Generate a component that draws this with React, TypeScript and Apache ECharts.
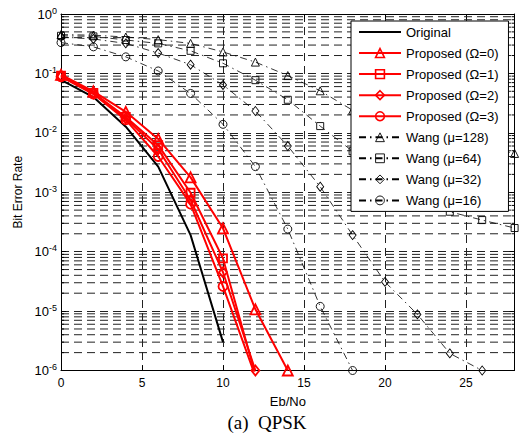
import { useEffect, useRef } from 'react';
import * as echarts from 'echarts';

// ---- data ----
const ebNo = [0, 2, 4, 6, 8, 10, 12, 14, 16, 18, 20, 22, 24, 26, 28];
const original = [0.078, 0.04, 0.0127, 0.0027, 1.9e-4, 3e-6];
const proposedO0 = [0.095, 0.05, 0.0226, 0.0079, 0.00178, 2.47e-4, 1.07e-5, 1e-6];
const proposedO1 = [0.092, 0.047, 0.0185, 0.0062, 9.8e-4, 7.7e-5, 8.5e-7];
const proposedO2 = [0.09, 0.046, 0.0175, 0.0053, 7.4e-4, 4.5e-5, 1e-6];
const proposedO3 = [0.088, 0.045, 0.0165, 0.004, 6.3e-4, 2.6e-5, 8e-7];
const wang128 = [0.45, 0.44, 0.41, 0.37, 0.32, 0.23, 0.155, 0.092, 0.051, 0.024, 0.016, 0.011, 0.008, 0.006, 0.0045];
const wang64 = [0.43, 0.42, 0.365, 0.32, 0.24, 0.148, 0.077, 0.036, 0.013, 0.0049, 0.0018, 0.0008, 0.00047, 0.00034, 0.00025];
const wang32 = [0.41, 0.38, 0.32, 0.22, 0.14, 0.064, 0.0233, 0.006, 0.00124, 1.9e-4, 3.1e-5, 8.8e-6, 1.94e-6, 1e-6];
const wang16 = [0.33, 0.28, 0.19, 0.11, 0.046, 0.0139, 0.0027, 2.4e-4, 1.2e-5, 1e-6];

const seriesNames = [
  'Original',
  'Proposed (Ω=0)',
  'Proposed (Ω=1)',
  'Proposed (Ω=2)',
  'Proposed (Ω=3)',
  'Wang (μ=128)',
  'Wang (μ=64)',
  'Wang (μ=32)',
  'Wang (μ=16)',
];

const xMin = 0;
const xMax = 28;
const xInterval = 5;
const yMin = 1e-6;
const yMax = 1;
const decadeExponents = [-6, -5, -4, -3, -2, -1];
const minorMantissas = [2, 3, 4, 5, 6, 7, 8, 9];

const xTitle = 'Eb/No';
const yTitle = 'Bit Error Rate';
const caption = '(a)  QPSK';

// ---- styling ----
const FONT = '"Liberation Sans", Arial, Helvetica, sans-serif';
const RED = '#ff0000';
const GRID = '#222222';
const DASH = [8, 5];
const CLEAR = 'rgba(255,255,255,0)';

const pairs = (ys: number[]) => ys.map((y, i) => [ebNo[i], y]);

const minorValues: number[] = [];
decadeExponents.forEach((e) => minorMantissas.forEach((m) => minorValues.push(m * Math.pow(10, e))));

function redSeries(name: string, ys: number[], symbol: string, size: number | number[]) {
  return {
    name,
    type: 'line',
    data: pairs(ys),
    symbol,
    symbolSize: size,
    showAllSymbol: true,
    color: RED,
    lineStyle: { color: RED, width: 2 },
    itemStyle: { color: CLEAR, borderColor: RED, borderWidth: 1.8 },
    z: 4,
  };
}

function wangSeries(name: string, ys: number[], symbol: string, size: number | number[]) {
  return {
    name,
    type: 'line',
    data: pairs(ys),
    symbol,
    symbolSize: size,
    showAllSymbol: true,
    color: '#000',
    lineStyle: { color: '#000', width: 0.8, type: [7, 4, 1.5, 4] },
    itemStyle: { color: CLEAR, borderColor: '#000', borderWidth: 0.9 },
    z: 3,
  };
}

const legendData = seriesNames.map((name, i) => {
  if (i === 0) return { name, itemStyle: { opacity: 0, borderWidth: 0 } };
  if (i <= 4) return { name, itemStyle: { color: CLEAR, borderColor: RED, borderWidth: 1.6 } };
  return { name, itemStyle: { color: CLEAR, borderColor: '#000', borderWidth: 0.9 } };
});

export default function App() {
  const ref = useRef<HTMLDivElement>(null);

  useEffect(() => {
    const chart = echarts.init(ref.current!, null, { renderer: 'svg' });

    const option: any = {
      animation: false,
      backgroundColor: '#fff',
      grid: { left: 61, right: 6.4, top: 14, bottom: 64.5, outerBoundsMode: 'none', containLabel: false },
      xAxis: [
        {
          type: 'value',
          min: xMin,
          max: xMax,
          interval: xInterval,
          name: xTitle,
          nameLocation: 'middle',
          nameGap: 24,
          nameTextStyle: { fontFamily: FONT, fontSize: 13, color: '#000' },
          axisLine: { show: true, onZero: false, lineStyle: { color: '#000', width: 1 } },
          axisTick: { show: true, inside: true, length: 5, lineStyle: { color: '#000' } },
          axisLabel: { fontFamily: FONT, fontSize: 12, color: '#000', margin: 6, showMaxLabel: false },
          splitLine: { show: true, lineStyle: { color: GRID, width: 1, type: DASH } },
        },
        {
          type: 'value',
          position: 'top',
          min: xMin,
          max: xMax,
          interval: xInterval,
          axisLine: { show: true, onZero: false, lineStyle: { color: '#000', width: 1 } },
          axisTick: { show: true, inside: true, length: 5, lineStyle: { color: '#000' } },
          axisLabel: { show: false },
          splitLine: { show: false },
        },
      ],
      yAxis: [
        {
          type: 'log',
          logBase: 10,
          min: yMin,
          max: yMax,
          splitNumber: 6,
          name: yTitle,
          nameLocation: 'middle',
          nameGap: 30,
          nameTextStyle: { fontFamily: FONT, fontSize: 12, color: '#000' },
          axisLine: { show: true, onZero: false, lineStyle: { color: '#000', width: 1 } },
          axisTick: { show: true, inside: true, length: 5, lineStyle: { color: '#000' } },
          axisLabel: {
            margin: 4,
            showMinLabel: true,
            showMaxLabel: true,
            formatter: (v: number) => `{b|10}{s|${Math.round(Math.log10(v))}}`,
            rich: {
              b: { fontFamily: FONT, fontSize: 13, color: '#000', lineHeight: 16 },
              s: { fontFamily: FONT, fontSize: 9, color: '#000', verticalAlign: 'top', lineHeight: 10 },
            },
          },
          splitLine: { show: true, lineStyle: { color: GRID, width: 1, type: DASH } },
        },
        {
          type: 'log',
          logBase: 10,
          position: 'right',
          min: yMin,
          max: yMax,
          splitNumber: 6,
          axisLine: { show: true, onZero: false, lineStyle: { color: '#000', width: 1 } },
          axisTick: { show: true, inside: true, length: 5, lineStyle: { color: '#000' } },
          axisLabel: { show: false },
          splitLine: { show: false },
        },
      ],
      legend: {
        data: legendData,
        orient: 'vertical',
        left: 351,
        top: 21,
        padding: [4, 10, 4, 7],
        itemWidth: 42,
        itemHeight: 11,
        itemGap: 7.05,
        backgroundColor: '#fff',
        borderColor: '#000',
        borderWidth: 1,
        borderRadius: 0,
        selectedMode: false,
        itemStyle: { borderWidth: 1 },
        textStyle: { fontFamily: FONT, fontSize: 13, color: '#000', lineHeight: 14 },
      },
      graphic: [
        {
          type: 'text',
          x: 267,
          y: 422,
          style: {
            text: caption,
            font: '19px "Liberation Serif", "Times New Roman", serif',
            fill: '#000',
            textAlign: 'center',
            textVerticalAlign: 'middle',
          },
        },
      ],
      series: [
        {
          name: 'minor-grid',
          type: 'custom',
          silent: true,
          z: 1,
          data: minorValues.map((v) => [xMin, v]),
          encode: { x: 0, y: 1 },
          renderItem: (params: any, api: any) => {
            const p = api.coord([xMin, api.value(1)]);
            const cs = params.coordSys;
            const y = p[1];
            return {
              type: 'group',
              children: [
                {
                  type: 'line',
                  shape: { x1: cs.x, y1: y, x2: cs.x + cs.width, y2: y },
                  style: { stroke: GRID, lineWidth: 1, lineDash: DASH },
                },
                {
                  type: 'line',
                  shape: { x1: cs.x, y1: y, x2: cs.x + 3, y2: y },
                  style: { stroke: '#000', lineWidth: 1 },
                },
                {
                  type: 'line',
                  shape: { x1: cs.x + cs.width - 3, y1: y, x2: cs.x + cs.width, y2: y },
                  style: { stroke: '#000', lineWidth: 1 },
                },
              ],
            };
          },
        },
        {
          name: seriesNames[0],
          type: 'line',
          data: pairs(original),
          symbol: 'none',
          color: '#000',
          lineStyle: { color: '#000', width: 2 },
          itemStyle: { opacity: 0 },
          z: 4,
        },
        redSeries(seriesNames[1], proposedO0, 'triangle', 10),
        redSeries(seriesNames[2], proposedO1, 'rect', 8),
        redSeries(seriesNames[3], proposedO2, 'diamond', [8, 10]),
        redSeries(seriesNames[4], proposedO3, 'circle', 9),
        wangSeries(seriesNames[5], wang128, 'triangle', 8),
        wangSeries(seriesNames[6], wang64, 'rect', 7),
        wangSeries(seriesNames[7], wang32, 'diamond', [7, 9]),
        wangSeries(seriesNames[8], wang16, 'circle', 8),
      ],
    };

    chart.setOption(option);
    return () => chart.dispose();
  }, []);

  return (
    <div
      ref={ref}
      style={{ position: 'fixed', left: 0, top: 0, width: 521, height: 435, background: '#fff' }}
    />
  );
}
